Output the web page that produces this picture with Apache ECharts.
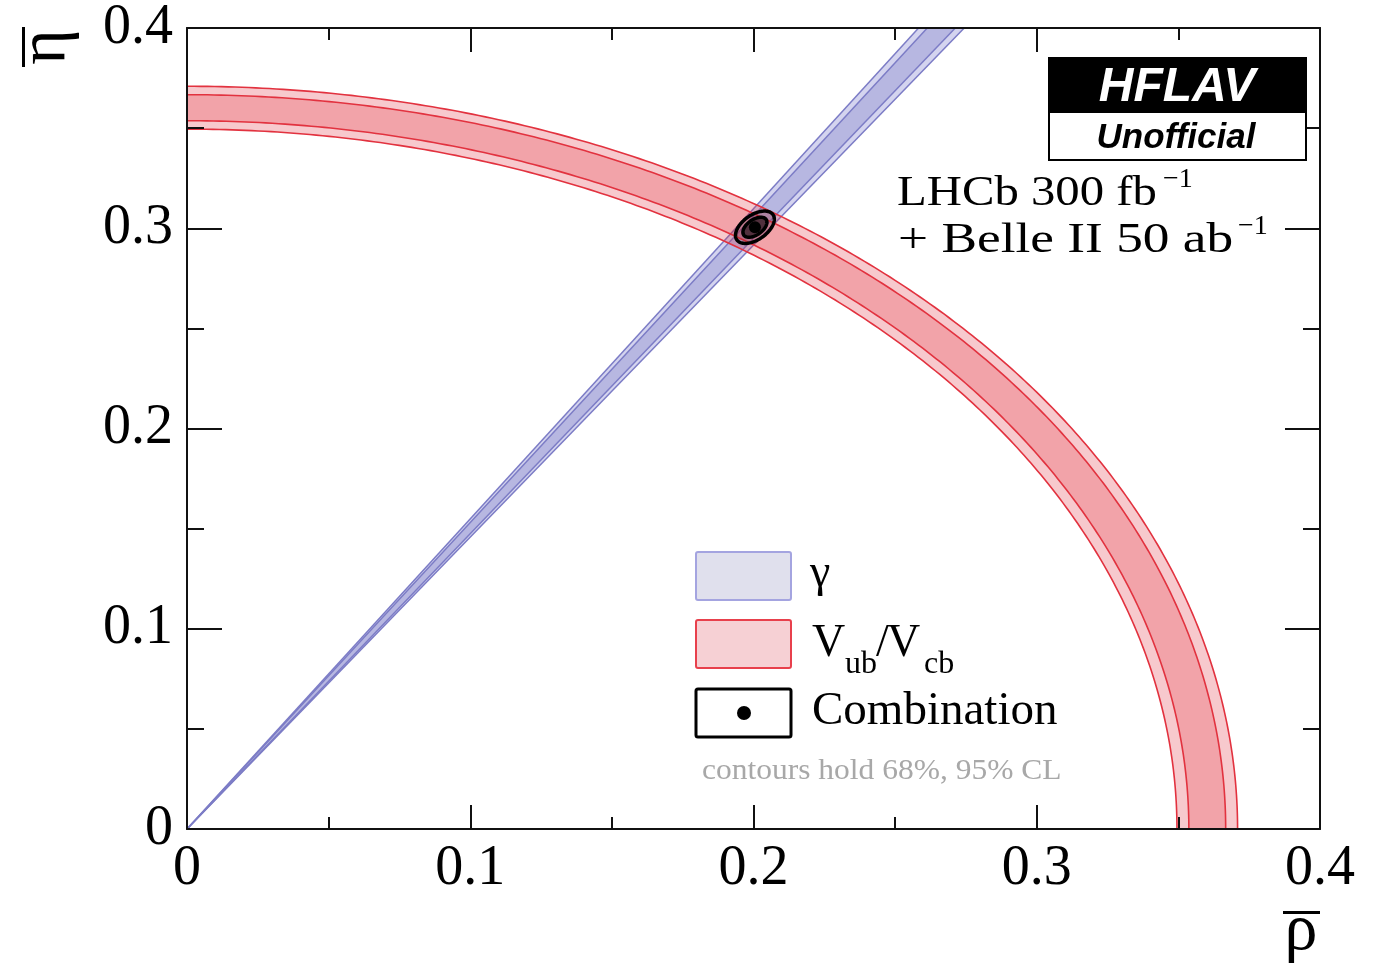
<!DOCTYPE html>
<html><head><meta charset="utf-8">
<script src="https://cdn.jsdelivr.net/npm/echarts@6/dist/echarts.min.js"></script>
<style>html,body{margin:0;padding:0;background:#fff;} #c{width:1381px;height:974px;}</style>
</head><body><div id="c"></div>
<script>
// ---- axes ----
const axisMin = 0, axisMax = 0.4;
const xTickLabels = ['0', '0.1', '0.2', '0.3', '0.4'];
const yTickLabels = ['0', '0.1', '0.2', '0.3', '0.4'];
// ---- gamma constraint: central angle (deg), half widths of 68% / 95% bands (deg)
const gammaCentral = [56.35];
const gammaHalfWidth = [0.49, 0.80];
// ---- |Vub/Vcb| constraint: central radius, half widths of 68% / 95% bands
const rbCentral = [0.3602];
const rbHalfWidth = [0.0065, 0.0107];
// ---- combination: centre (rho, eta), sigmas, correlation, 68%/95% 2D scale factors
const comboCenter = [0.2005, 0.3005];
const comboSigma = [0.0028, 0.0033];
const comboCorr = [0.5];
const comboCLScale = [1.515, 2.448];
// ---- legend / labels
const legendLabels = ['γ', 'Combination'];
const footnote = 'contours hold 68%, 95% CL';

const SERIF = '"Liberation Serif", "Times New Roman", serif';
const SANS = '"Liberation Sans", Arial, sans-serif';

function fmt(labels) { return v => labels[Math.round(v / 0.1)]; }

function renderGamma(params, api) {
  const g = api.value(0), h68 = api.value(1), h95 = api.value(2);
  const O = api.coord([0, 0]);
  const edge = deg => { const t = deg * Math.PI / 180; return api.coord([axisMax / Math.tan(t), axisMax]); };
  const wedge = (h, fill) => ({ type: 'polygon', shape: { points: [O, edge(g - h), edge(g + h)] }, style: { fill: fill } });
  const ray = deg => { const e = edge(deg); return { type: 'line', shape: { x1: O[0], y1: O[1], x2: e[0], y2: e[1] }, style: { stroke: '#7c7cc6', lineWidth: 1.5 } }; };
  return { type: 'group', children: [wedge(h95, '#d4d4ef'), wedge(h68, '#b7b7e1'), ray(g - h95), ray(g - h68), ray(g + h68), ray(g + h95)] };
}

function arcPts(api, r, reverse) {
  const pts = []; const N = 240;
  for (let i = 0; i <= N; i++) { const t = (reverse ? (N - i) : i) / N * Math.PI / 2; pts.push(api.coord([r * Math.cos(t), r * Math.sin(t)])); }
  return pts;
}
function renderRb(params, api) {
  const c = api.value(0), h68 = api.value(1), h95 = api.value(2);
  const ring = (r1, r2, fill) => ({ type: 'polygon', shape: { points: arcPts(api, r2, false).concat(arcPts(api, r1, true)) }, style: { fill: fill } });
  const arc = r => ({ type: 'polyline', shape: { points: arcPts(api, r, false) }, style: { fill: null, stroke: '#e2323f', lineWidth: 1.6 } });
  return { type: 'group', children: [
    ring(c - h95, c + h95, 'rgba(225,40,55,0.25)'),
    ring(c - h68, c + h68, 'rgba(225,40,55,0.24)'),
    arc(c - h95), arc(c - h68), arc(c + h68), arc(c + h95)] };
}
function renderCombo(params, api) {
  const cx = api.value(0), cy = api.value(1), sx = api.value(2), sy = api.value(3), r = api.value(4);
  const ell = k => { const pts = []; const N = 120; for (let i = 0; i < N; i++) { const t = 2 * Math.PI * i / N; pts.push(api.coord([cx + k * sx * Math.cos(t), cy + k * sy * (r * Math.cos(t) + Math.sqrt(1 - r * r) * Math.sin(t))])); } return pts; };
  const c = api.coord([cx, cy]);
  return { type: 'group', children: [
    { type: 'polygon', shape: { points: ell(comboCLScale[1]) }, style: { fill: 'rgba(0,0,0,0.1)', stroke: '#000', lineWidth: 3.5 } },
    { type: 'polygon', shape: { points: ell(comboCLScale[0]) }, style: { fill: 'rgba(0,0,0,0.55)', stroke: '#000', lineWidth: 3.5 } },
    { type: 'circle', shape: { cx: c[0], cy: c[1], r: 6 }, style: { fill: '#000' } }] };
}

// text helper: baseline-positioned text
function T(text, x, base, fs, opt) {
  opt = opt || {};
  return Object.assign({ type: 'text', x: x, y: base - 0.34 * fs, z: 100,
    style: { text: text, font: (opt.style || '') + ' ' + fs + 'px ' + (opt.family || SERIF), fill: opt.fill || '#000',
      textAlign: opt.align || 'left', textVerticalAlign: 'middle' } }, opt.extra || {});
}

const axisCommon = { type: 'value', min: axisMin, max: axisMax, interval: 0.1, z: 10,
  splitLine: { show: false }, axisLine: { show: true, onZero: false, lineStyle: { color: '#111', width: 2 } } };

const option = {
  animation: false,
  backgroundColor: '#fff',
  grid: { left: 187, top: 27, width: 1133, height: 802, show: false },
  xAxis: [
    Object.assign({}, axisCommon, { position: 'bottom',
      axisTick: { inside: true, length: 24, lineStyle: { color: '#111', width: 2 } },
      minorTick: { show: true, splitNumber: 2, length: 12, lineStyle: { color: '#111', width: 2 } },
      axisLabel: { margin: 12, formatter: fmt(xTickLabels), fontFamily: SERIF, fontSize: 56, color: '#000' } }),
    Object.assign({}, axisCommon, { position: 'top',
      axisTick: { inside: true, length: 24, lineStyle: { color: '#111', width: 2 } },
      minorTick: { show: true, splitNumber: 2, length: 12, lineStyle: { color: '#111', width: 2 } },
      axisLabel: { show: false } })
  ],
  yAxis: [
    Object.assign({}, axisCommon, { position: 'left',
      axisTick: { inside: true, length: 35, lineStyle: { color: '#111', width: 2 } },
      minorTick: { show: true, splitNumber: 2, length: 17, lineStyle: { color: '#111', width: 2 } },
      axisLabel: { margin: 14, formatter: fmt(yTickLabels), fontFamily: SERIF, fontSize: 56, color: '#000' } }),
    Object.assign({}, axisCommon, { position: 'right',
      axisTick: { inside: true, length: 35, lineStyle: { color: '#111', width: 2 } },
      minorTick: { show: true, splitNumber: 2, length: 17, lineStyle: { color: '#111', width: 2 } },
      axisLabel: { show: false } })
  ],
  series: [
    { type: 'custom', name: 'γ', xAxisIndex: 0, yAxisIndex: 0, silent: true, z: 2,
      data: [[gammaCentral[0], gammaHalfWidth[0], gammaHalfWidth[1]]], renderItem: renderGamma },
    { type: 'custom', name: 'Vub/Vcb', xAxisIndex: 0, yAxisIndex: 0, silent: true, z: 3,
      data: [[rbCentral[0], rbHalfWidth[0], rbHalfWidth[1]]], renderItem: renderRb },
    { type: 'custom', name: 'Combination', xAxisIndex: 0, yAxisIndex: 0, silent: true, z: 4,
      data: [[comboCenter[0], comboCenter[1], comboSigma[0], comboSigma[1], comboCorr[0]]], renderItem: renderCombo }
  ],
  graphic: [
    // HFLAV logo
    { type: 'rect', z: 100, shape: { x: 1048, y: 57, width: 259, height: 55 }, style: { fill: '#000' } },
    { type: 'rect', z: 100, shape: { x: 1049, y: 112, width: 257, height: 48 }, style: { fill: '#fff', stroke: '#000', lineWidth: 2 } },
    T('HFLAV', 1177, 104, 48, { family: SANS, style: 'italic bold', fill: '#fff', align: 'center' }),
    T('Unofficial', 1176, 150, 35, { family: SANS, style: 'italic bold', align: 'center' }),
    // experiment text
    T('LHCb 300 fb', 897, 208, 42, { extra: { scaleX: 1.16 } }),
    T('−1', 1163, 189, 28),
    T('+ Belle II 50 ab', 898, 255, 42, { extra: { scaleX: 1.27 } }),
    T('−1', 1238, 236, 28),
    // legend
    { type: 'rect', z: 100, shape: { x: 696, y: 552, width: 95, height: 48, r: 2 }, style: { fill: '#e0e0ed', stroke: '#a4a4e0', lineWidth: 2 } },
    { type: 'rect', z: 100, shape: { x: 696, y: 620, width: 95, height: 48, r: 2 }, style: { fill: '#f6d0d4', stroke: '#e8404c', lineWidth: 2 } },
    { type: 'rect', z: 100, shape: { x: 696, y: 689, width: 95, height: 48, r: 2 }, style: { fill: '#fff', stroke: '#000', lineWidth: 3 } },
    { type: 'circle', z: 101, shape: { cx: 744, cy: 713, r: 7 }, style: { fill: '#000' } },
    T(legendLabels[0], 810, 590, 46),
    T('V', 812, 660, 46),
    T('ub', 845, 675, 32),
    T('/', 876, 660, 46),
    T('V', 887, 660, 46),
    T('cb', 924, 675, 32),
    T(legendLabels[1], 812, 728, 47),
    T(footnote, 702, 781, 30, { fill: '#a8a8a8', extra: { scaleX: 1.05 } }),
    // axis titles
    T('ρ', 1301, 954, 66, { align: 'center' }),
    { type: 'rect', z: 100, shape: { x: 1283, y: 911, width: 37, height: 3 }, style: { fill: '#000' } },
    { type: 'group', x: 70, y: 47, rotation: Math.PI / 2, z: 100, children: [
      { type: 'text', x: 0, y: -0.34 * 68, style: { text: 'η', font: '68px ' + SERIF, fill: '#000', textAlign: 'center', textVerticalAlign: 'middle' } },
      { type: 'rect', shape: { x: -20, y: -48, width: 40, height: 3 }, style: { fill: '#000' } }
    ] }
  ]
};
const chart = echarts.init(document.getElementById('c'), null, { renderer: 'canvas' });
chart.setOption(option);
</script></body></html>
